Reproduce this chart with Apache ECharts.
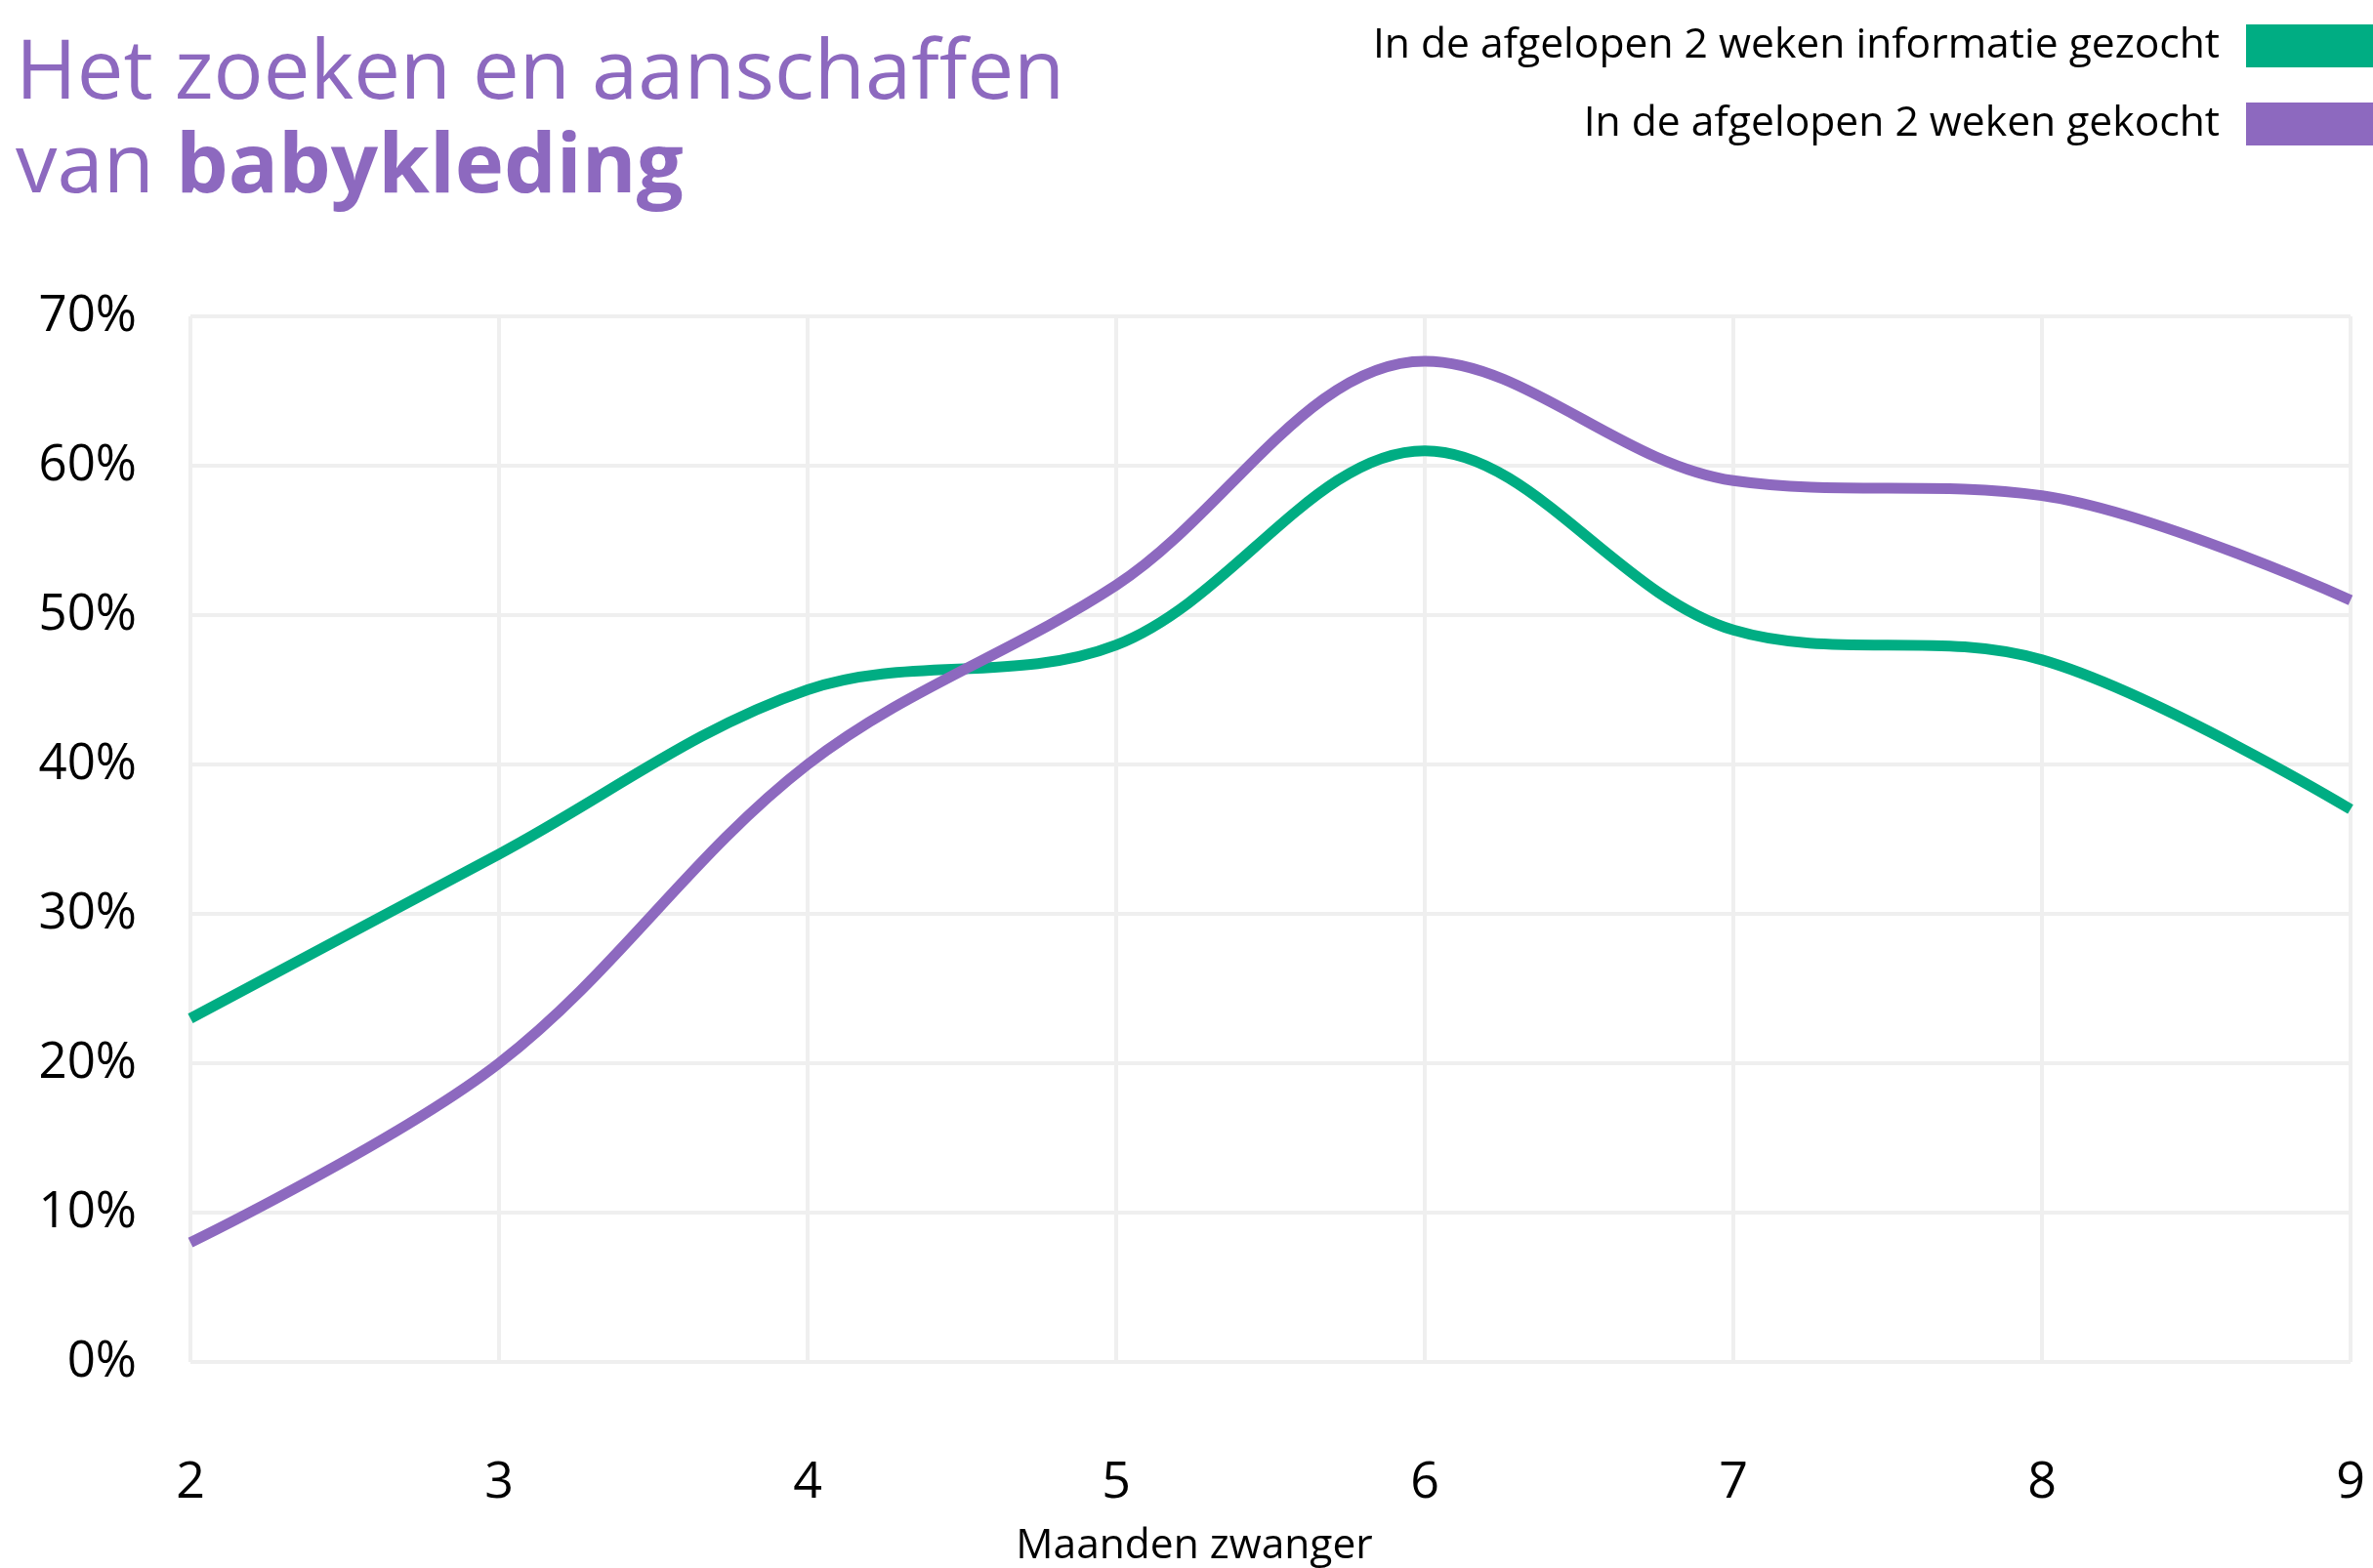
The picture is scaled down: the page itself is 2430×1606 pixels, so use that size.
<!DOCTYPE html>
<html>
<head>
<meta charset="utf-8">
<script src="https://cdn.jsdelivr.net/npm/echarts@6/dist/echarts.min.js"></script>
<style>html,body{margin:0;padding:0;background:#fff;}#c{width:2430px;height:1606px;}</style>
</head>
<body>
<div id="c"></div>
<script>
var months = [2, 3, 4, 5, 6, 7, 8, 9];
var infoGezocht = [23, 34, 45, 48, 61, 49, 47, 37];
var gekocht = [8, 20, 40, 52, 67, 59, 58, 51];
var yTicks = [0, 10, 20, 30, 40, 50, 60, 70];
var seriesNames = ['In de afgelopen 2 weken informatie gezocht', 'In de afgelopen 2 weken gekocht'];

var GREEN = '#00AD83', PURPLE = '#8D69BF', GRID = '#EFEFEF';
var FONT = 'Open Sans';

function pairs(vals){ return months.map(function(m,i){ return [m, vals[i]]; }); }

var chart = echarts.init(document.getElementById('c'));
chart.setOption({
  animation: false,
  backgroundColor: '#fff',
  textStyle: { fontFamily: FONT },
  title: {
    left: 16, top: 29, padding: 0,
    text: '{a|Het zoeken en aanschaffen}\n{a|van }{b|babykleding}',
    textStyle: {
      rich: {
        a: { fontFamily: FONT, fontSize: 85, fontWeight: 'normal', color: PURPLE, lineHeight: 96 },
        b: { fontFamily: FONT, fontSize: 85, fontWeight: 'bold', color: PURPLE, lineHeight: 96 }
      }
    }
  },
  legend: {
    orient: 'vertical', right: 0, top: 25, align: 'right', padding: 0,
    itemWidth: 130, itemHeight: 44, itemGap: 36,
    icon: 'rect',
    textStyle: { fontFamily: FONT, fontSize: 42.6, color: '#000', padding: [0, 22, 0, 0] },
    data: seriesNames
  },
  grid: { left: 195, right: 23, top: 324, bottom: 211, containLabel: false, outerBoundsMode: 'none' },
  xAxis: {
    type: 'value', min: 2, max: 9, interval: 1,
    name: 'Maanden zwanger', nameLocation: 'middle', nameGap: 167,
    nameTextStyle: { fontFamily: FONT, fontSize: 42.5, color: '#000', padding: [0, 156, 0, 0] },
    axisLine: { show: false }, axisTick: { show: false },
    axisLabel: { fontFamily: FONT, fontSize: 52, color: '#000', margin: 98 },
    splitLine: { show: true, lineStyle: { color: GRID, width: 4 } }
  },
  yAxis: {
    type: 'value', min: 0, max: 70, interval: 10,
    axisLine: { show: false }, axisTick: { show: false },
    axisLabel: { fontFamily: FONT, fontSize: 51, color: '#000', margin: 55,
      formatter: function(v){ return yTicks.indexOf(v) >= 0 ? v + '%' : ''; } },
    splitLine: { show: true, lineStyle: { color: GRID, width: 4 } }
  },
  series: [
    { name: seriesNames[0], type: 'line', smooth: 0.35, symbol: 'none', data: pairs(infoGezocht),
      color: GREEN, lineStyle: { width: 11, color: GREEN } },
    { name: seriesNames[1], type: 'line', smooth: 0.35, symbol: 'none', data: pairs(gekocht),
      color: PURPLE, lineStyle: { width: 11, color: PURPLE } }
  ]
});
</script>
</body>
</html>
